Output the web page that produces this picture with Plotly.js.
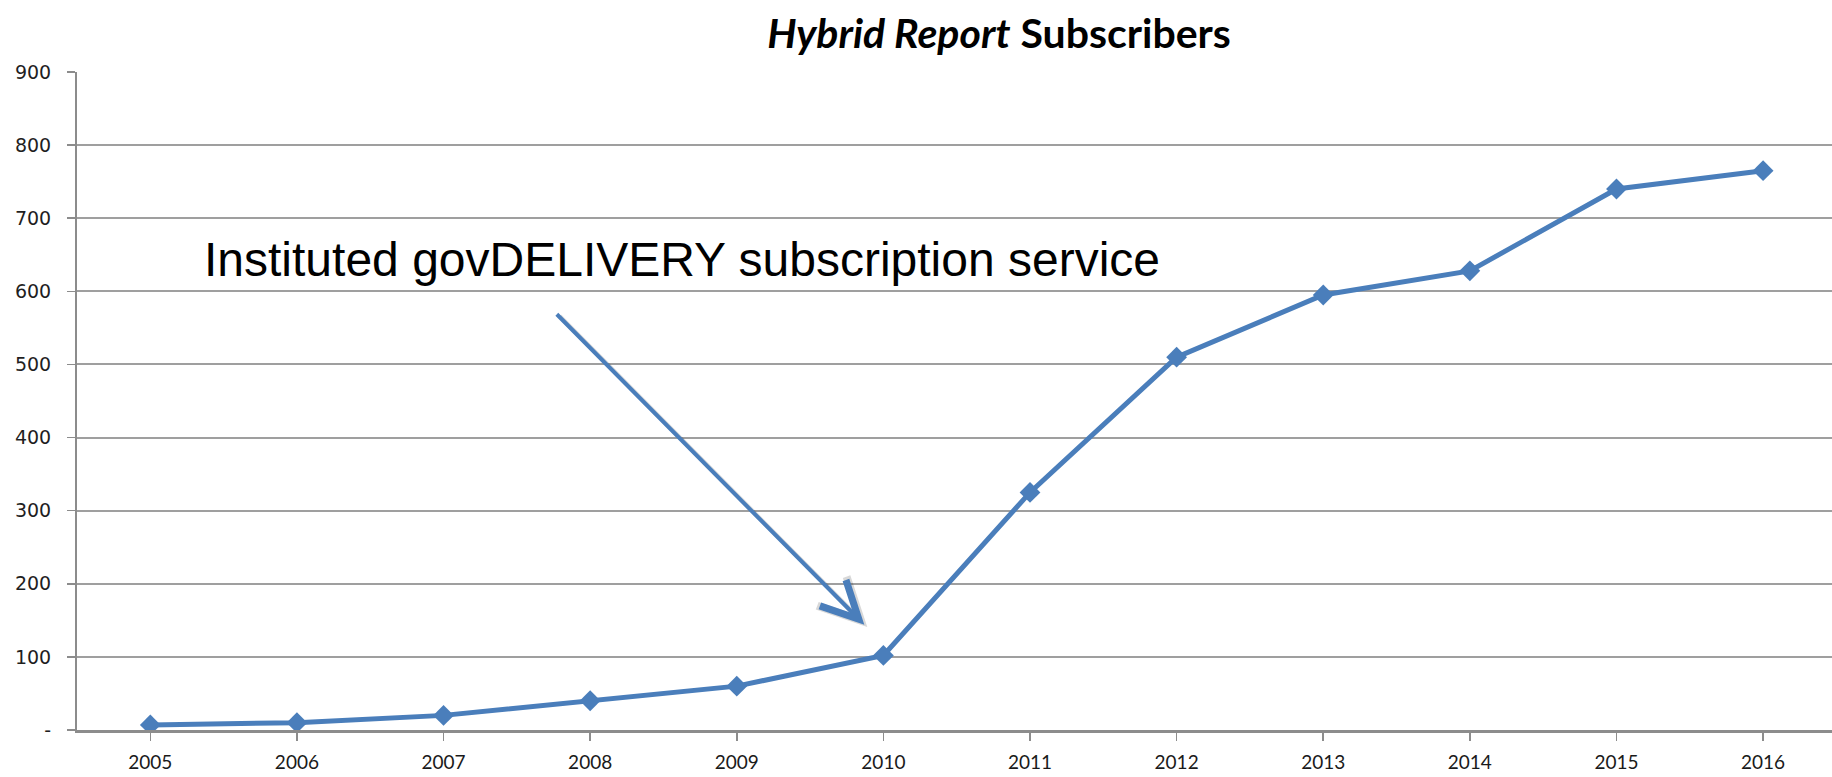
<!DOCTYPE html>
<html>
<head>
<meta charset="utf-8">
<script src="https://cdn.plot.ly/plotly-3.0.1.min.js"></script>
<style>
  html, body { margin: 0; padding: 0; background: #ffffff; }
  #chart { width: 1832px; height: 777px; }
</style>
</head>
<body>
<div id="chart"></div>
<script>
// ---- data ----
var years = ["2005", "2006", "2007", "2008", "2009", "2010", "2011", "2012", "2013", "2014", "2015", "2016"];
var subscribers = [7, 10, 20, 40, 60, 102, 325, 510, 595, 628, 740, 765];
var yTickVals = [0, 100, 200, 300, 400, 500, 600, 700, 800, 900];
var yTickText = ["-", "100", "200", "300", "400", "500", "600", "700", "800", "900"];
var titleText = "<b><i>Hybrid Report</i> Subscribers</b>";
var noteText = "Instituted govDELIVERY subscription service";

var blue = "#4a7ebb";

var trace = {
  x: years.map(function (d, i) { return i; }),
  y: subscribers,
  type: "scatter",
  mode: "lines+markers",
  line: { color: blue, width: 5 },
  marker: { symbol: "diamond", size: 16, color: blue },
  hoverinfo: "x+y",
  showlegend: false
};

var W = 1832, H = 777;
var M = { l: 77, r: 0, t: 72, b: 47 };

var layout = {
  width: W,
  height: H,
  margin: M,
  paper_bgcolor: "#ffffff",
  plot_bgcolor: "#ffffff",
  title: {
    text: titleText,
    font: { family: "Lato, 'Open Sans', sans-serif", size: 41, color: "#000000" },
    x: 999 / W,
    xanchor: "center",
    xref: "container",
    y: 1 - 34 / H,
    yref: "container",
    yanchor: "middle"
  },
  xaxis: {
    range: [-0.5, 11.47],
    tickmode: "array",
    tickvals: years.map(function (d, i) { return i; }),
    ticktext: years,
    tickson: "boundaries",
    ticks: "outside",
    ticklen: 8,
    tickwidth: 1.5,
    tickcolor: "#8c8c8c",
    showgrid: false,
    zeroline: false,
    showline: true,
    linecolor: "#8c8c8c",
    linewidth: 2.5,
    ticklabelstandoff: 6,
    tickfont: { family: "Lato, 'Liberation Sans', sans-serif", size: 19, color: "#1a1a1a" },
    fixedrange: true
  },
  yaxis: {
    range: [0, 900],
    tickmode: "array",
    tickvals: yTickVals,
    ticktext: yTickText,
    ticks: "outside",
    ticklen: 8,
    tickwidth: 1.5,
    tickcolor: "#8c8c8c",
    showgrid: true,
    gridcolor: "#9f9f9f",
    gridwidth: 2,
    zeroline: false,
    showline: true,
    linecolor: "#8c8c8c",
    linewidth: 2,
    ticklabelstandoff: 12,
    tickfont: { family: "'DejaVu Sans', Verdana, sans-serif", size: 19, color: "#1f1f1f" },
    fixedrange: true
  },
  annotations: [
    {
      // soft shadow of the arrow
      x: 4.89, y: 141, xref: "x", yref: "y",
      ax: -309, ay: -312, axref: "pixel", ayref: "pixel",
      text: "", showarrow: true,
      arrowhead: 5, arrowsize: 1.8, arrowwidth: 4.5,
      arrowcolor: "rgba(0,0,0,0.15)"
    },
    {
      x: 4.87, y: 144, xref: "x", yref: "y",
      ax: -309, ay: -312, axref: "pixel", ayref: "pixel",
      text: "", showarrow: true,
      arrowhead: 5, arrowsize: 1.8, arrowwidth: 4,
      arrowcolor: blue
    },
    {
      x: 0, xref: "paper", xanchor: "left",
      y: 0, yref: "paper", yanchor: "middle",
      text: noteText,
      showarrow: false,
      font: { family: "'Liberation Sans', Arial, sans-serif", size: 48, color: "#000000" }
    }
  ]
};

// place the note (given in page pixels) in paper coordinates
(function () {
  var plotW = W - M.l - M.r;
  var plotH = H - M.t - M.b;
  layout.annotations[2].x = (202 - M.l) / plotW;
  layout.annotations[2].y = 1 - (259 - M.t) / plotH;
})();

Plotly.newPlot("chart", [trace], layout, { displayModeBar: false, staticPlot: true });
</script>
</body>
</html>
